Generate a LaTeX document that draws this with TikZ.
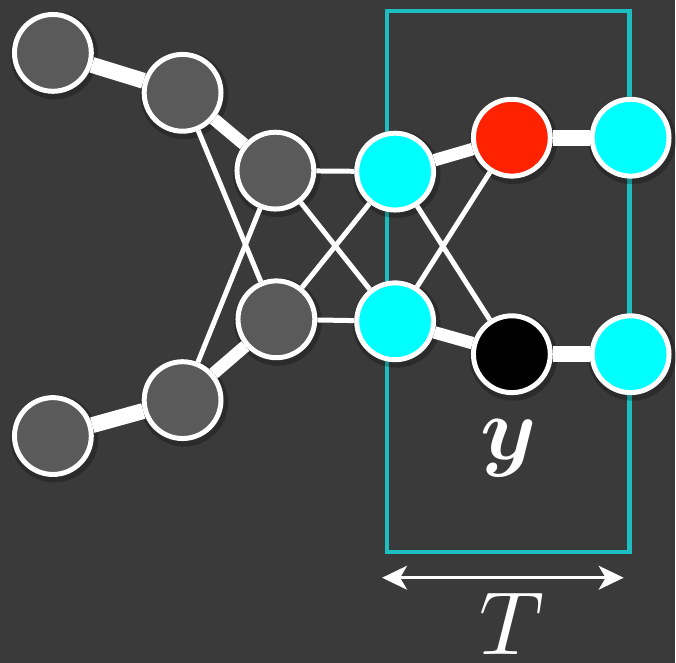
\documentclass[tikz,border=0pt]{standalone}
\usepackage{amsmath}
\usepackage{bm}
\usepackage{graphicx}
\usetikzlibrary{arrows.meta}
\definecolor{bgc}{HTML}{3A3A3A}
\definecolor{grayn}{HTML}{5A5A5A}
\definecolor{cyann}{HTML}{00FFFF}
\definecolor{redn}{HTML}{FF2200}
\definecolor{boxc}{HTML}{1CBEC0}
\pgfdeclarelayer{bgzero}
\pgfdeclarelayer{edgelayer}
\pgfsetlayers{bgzero,edgelayer,main}
\tikzset{
  nd/.style={circle, draw=white, line width=5pt, minimum size=77pt, inner sep=0pt},
  gn/.style={nd, fill=grayn},
  cn/.style={nd, fill=cyann},
  rn/.style={nd, fill=redn},
  kn/.style={nd, fill=black},
  thinedge/.style={white, line width=5pt},
  thickedge/.style={white, line width=16pt},
  midedge/.style={white, line width=12.5pt},
  lbl/.style={text=white, anchor=base, inner sep=0pt},
}
\begin{document}
\begin{tikzpicture}[x=1pt,y=-1pt]
\begin{pgfonlayer}{bgzero}
\fill[bgc] (0,0) rectangle (676,664);
\draw[boxc, line width=4.5pt] (388,11) rectangle (631,553);
\foreach \p in {(53,53),(183,93),(276,171),(277,320),(183,401),(53,437),(396,172),(396,322),(513,138),(513,355),(632,138),(632,355)}
  \fill[black, opacity=0.25] \p ++(1.5,2.5) circle (44pt);
\end{pgfonlayer}
\useasboundingbox (0,0) rectangle (676,664);
% nodes
\node[gn] (A) at (53,53) {};
\node[gn] (B) at (183,93) {};
\node[gn] (C) at (276,171) {};
\node[gn] (D) at (277,320) {};
\node[gn] (E) at (183,401) {};
\node[gn] (F) at (53,437) {};
\node[cn] (G) at (396,172) {};
\node[cn] (H) at (396,322) {};
\node[rn] (I) at (513,138) {};
\node[kn] (J) at (513,355) {};
\node[cn] (K) at (632,138) {};
\node[cn] (L) at (632,355) {};
% edges
\begin{pgfonlayer}{edgelayer}
\draw[thickedge] (A) -- (B);
\draw[midedge] (B) -- (C);
\draw[thinedge] (B) -- (D);
\draw[thinedge] (E) -- (C);
\draw[midedge] (E) -- (D);
\draw[thickedge] (F) -- (E);
\draw[thinedge] (C) -- (G);
\draw[thinedge] (C) -- (H);
\draw[thinedge] (D) -- (G);
\draw[thinedge] (D) -- (H);
\draw[midedge] (G) -- (I);
\draw[thinedge] (G) -- (J);
\draw[thinedge] (H) -- (I);
\draw[midedge] (H) -- (J);
\draw[thickedge] (I) -- (K);
\draw[thickedge] (J) -- (L);
\end{pgfonlayer}
% labels
\node[lbl] (ylab) at (510,461) {\scalebox{9}{$\bm{y}$}};
\coordinate (al) at (383,579);
\coordinate (ar) at (625,579);
\draw[white, line width=2.5pt, {Stealth[length=25pt,width=24pt,inset=7pt]}-{Stealth[length=25pt,width=24pt,inset=7pt]}] (al) -- (ar);
\node[lbl] (tlab) at (513,656) {\scalebox{9}{$T$}};
\end{tikzpicture}
\end{document}
